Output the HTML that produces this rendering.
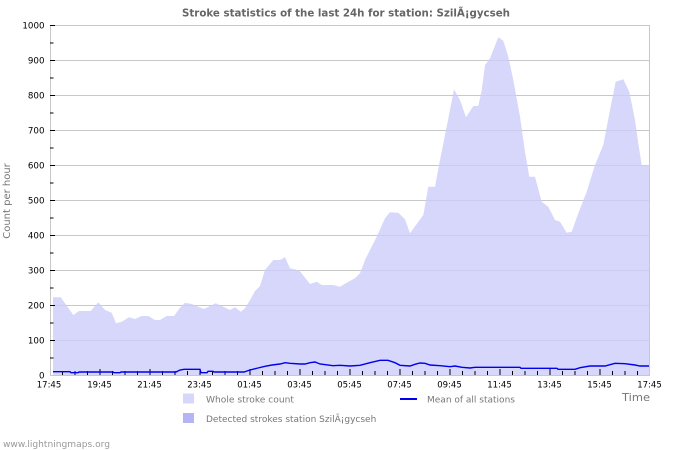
<!DOCTYPE html>
<html><head><meta charset="utf-8"><style>
html,body{margin:0;padding:0;background:#fff;}
svg{display:block;}
text{font-family:"DejaVu Sans","Liberation Sans",sans-serif;}
</style></head><body>
<svg width="700" height="450" viewBox="0 0 700 450" xmlns="http://www.w3.org/2000/svg">
<rect width="700" height="450" fill="#fff"/>
<text x="182" y="16.5" font-size="10.5" font-weight="bold" fill="#666" textLength="328" lengthAdjust="spacingAndGlyphs">Stroke statistics of the last 24h for station: SzilÃ¡gycseh</text>
<!-- grid -->
<g stroke="#c8c8c8" stroke-width="1">
<line x1="50" y1="25.5" x2="650" y2="25.5"/>
<line x1="50" y1="60.5" x2="650" y2="60.5"/>
<line x1="50" y1="95.5" x2="650" y2="95.5"/>
<line x1="50" y1="130.5" x2="650" y2="130.5"/>
<line x1="50" y1="165.5" x2="650" y2="165.5"/>
<line x1="50" y1="200.5" x2="650" y2="200.5"/>
<line x1="50" y1="235.5" x2="650" y2="235.5"/>
<line x1="50" y1="270.5" x2="650" y2="270.5"/>
<line x1="50" y1="305.5" x2="650" y2="305.5"/>
<line x1="50" y1="340.5" x2="650" y2="340.5"/>
</g>
<!-- fill -->
<polygon fill="#cdcdfa" fill-opacity="0.8" points="53,375 53,297.3 60.7,297.3 73.3,315 79,311 90.7,311 98.3,302.3 105,310 111.7,312.7 116,323.3 121.7,321.7 129,317.3 135,319 141.7,316 148.3,316 155,320 160,320 166.7,316 174,316 180,307.7 185,302.7 191.7,304 198.3,306.7 204,309 210,306 215.7,303.3 223.3,306.7 230,310 235,307.3 240.7,311.7 245,308.3 250,300 255,291 260,286 265,270 268.3,266 273.3,260 280,260 285,257.3 290,268.3 299.3,270.5 310,284 316.7,281.7 321.7,285 333.3,285 340,286.7 348.3,281.7 355,278.3 360,273.3 365,260 376.7,236.7 385,218.3 390,212.3 398.3,212.7 405,219.3 410,233.3 416.7,224 423.3,215 428.3,186.7 435,186.7 440,160 446.7,126.7 454,89.3 460,100 466,117.3 473.3,106 478.3,106 481.7,90 485,65 490,58.3 498.3,37.3 503.3,40.7 508.3,56.7 513.3,80 520,116.7 525,151.7 529.3,176.7 535,176.7 541.7,201.7 548.3,206.7 555,220 560,221.7 566.7,232.7 571.7,231.7 578.3,213.3 586.7,191.7 595,165 603.3,145 610,110 615.7,81.7 623.3,79.3 629.3,91.7 635,120 638.3,143.3 641.7,165 650,165 650,375"/>
<!-- frame -->
<g stroke="#c8c8c8" stroke-width="1" fill="none">
<line x1="50.5" y1="25" x2="50.5" y2="375"/>
<line x1="649.5" y1="25" x2="649.5" y2="375"/>
<line x1="50" y1="375.5" x2="650" y2="375.5"/>
</g>
<!-- y ticks -->
<g stroke="#000" stroke-width="1">
<line x1="50" y1="25.5" x2="55" y2="25.5"/><line x1="50" y1="43" x2="53.5" y2="43"/>
<line x1="50" y1="60.5" x2="55" y2="60.5"/><line x1="50" y1="78" x2="53.5" y2="78"/>
<line x1="50" y1="95.5" x2="55" y2="95.5"/><line x1="50" y1="113" x2="53.5" y2="113"/>
<line x1="50" y1="130.5" x2="55" y2="130.5"/><line x1="50" y1="148" x2="53.5" y2="148"/>
<line x1="50" y1="165.5" x2="55" y2="165.5"/><line x1="50" y1="183" x2="53.5" y2="183"/>
<line x1="50" y1="200.5" x2="55" y2="200.5"/><line x1="50" y1="218" x2="53.5" y2="218"/>
<line x1="50" y1="235.5" x2="55" y2="235.5"/><line x1="50" y1="253" x2="53.5" y2="253"/>
<line x1="50" y1="270.5" x2="55" y2="270.5"/><line x1="50" y1="288" x2="53.5" y2="288"/>
<line x1="50" y1="305.5" x2="55" y2="305.5"/><line x1="50" y1="323" x2="53.5" y2="323"/>
<line x1="50" y1="340.5" x2="55" y2="340.5"/><line x1="50" y1="358" x2="53.5" y2="358"/>
</g>
<!-- x ticks -->
<g stroke="#000" stroke-width="1">
<line x1="62.5" y1="375" x2="62.5" y2="371"/><line x1="75" y1="375" x2="75" y2="371"/><line x1="87.5" y1="375" x2="87.5" y2="371"/><line x1="100" y1="375" x2="100" y2="369"/>
<line x1="112.5" y1="375" x2="112.5" y2="371"/><line x1="125" y1="375" x2="125" y2="371"/><line x1="137.5" y1="375" x2="137.5" y2="371"/><line x1="150" y1="375" x2="150" y2="369"/>
<line x1="162.5" y1="375" x2="162.5" y2="371"/><line x1="175" y1="375" x2="175" y2="371"/><line x1="187.5" y1="375" x2="187.5" y2="371"/><line x1="200" y1="375" x2="200" y2="369"/>
<line x1="212.5" y1="375" x2="212.5" y2="371"/><line x1="225" y1="375" x2="225" y2="371"/><line x1="237.5" y1="375" x2="237.5" y2="371"/><line x1="250" y1="375" x2="250" y2="369"/>
<line x1="262.5" y1="375" x2="262.5" y2="371"/><line x1="275" y1="375" x2="275" y2="371"/><line x1="287.5" y1="375" x2="287.5" y2="371"/><line x1="300" y1="375" x2="300" y2="369"/>
<line x1="312.5" y1="375" x2="312.5" y2="371"/><line x1="325" y1="375" x2="325" y2="371"/><line x1="337.5" y1="375" x2="337.5" y2="371"/><line x1="350" y1="375" x2="350" y2="369"/>
<line x1="362.5" y1="375" x2="362.5" y2="371"/><line x1="375" y1="375" x2="375" y2="371"/><line x1="387.5" y1="375" x2="387.5" y2="371"/><line x1="400" y1="375" x2="400" y2="369"/>
<line x1="412.5" y1="375" x2="412.5" y2="371"/><line x1="425" y1="375" x2="425" y2="371"/><line x1="437.5" y1="375" x2="437.5" y2="371"/><line x1="450" y1="375" x2="450" y2="369"/>
<line x1="462.5" y1="375" x2="462.5" y2="371"/><line x1="475" y1="375" x2="475" y2="371"/><line x1="487.5" y1="375" x2="487.5" y2="371"/><line x1="500" y1="375" x2="500" y2="369"/>
<line x1="512.5" y1="375" x2="512.5" y2="371"/><line x1="525" y1="375" x2="525" y2="371"/><line x1="537.5" y1="375" x2="537.5" y2="371"/><line x1="550" y1="375" x2="550" y2="369"/>
<line x1="562.5" y1="375" x2="562.5" y2="371"/><line x1="575" y1="375" x2="575" y2="371"/><line x1="587.5" y1="375" x2="587.5" y2="371"/><line x1="600" y1="375" x2="600" y2="369"/>
<line x1="612.5" y1="375" x2="612.5" y2="371"/><line x1="625" y1="375" x2="625" y2="371"/><line x1="637.5" y1="375" x2="637.5" y2="371"/>
</g>
<!-- mean line -->
<polyline fill="none" stroke="#0000ee" stroke-width="1.4" points="53,371.7 70,371.7 71,372.7 78,372.7 79,372 113,372 114,372.7 120,372.7 121,372 176,372 180,370 184,369.3 200,369.3 201,372.7 207,372.7 208,371.3 213,371.3 214,372 244,372 250,370 258,368 265,366.3 272,365 280,364 285,362.7 290,363.3 300,364 305,364 310,362.7 315,362 320,364 333,365.7 340,365.3 350,366 360,365.3 370,362.7 380,360.3 388,360.3 395,362.7 400,365.3 410,366 415,364.3 420,363 425,363.3 430,365 440,365.7 450,366.7 455,366 462,367.3 470,368 475,367.3 520,367.3 521,368.3 557,368.3 558,369.3 575,369.3 580,367.7 590,366 605,366 610,364.7 615,363.3 625,363.7 635,365 640,366 649,366"/>
<!-- y labels -->
<g font-size="8.7" fill="#000" text-anchor="end">
<text x="44.5" y="28.3">1000</text>
<text x="44.5" y="63.3">900</text>
<text x="44.5" y="98.3">800</text>
<text x="44.5" y="133.3">700</text>
<text x="44.5" y="168.3">600</text>
<text x="44.5" y="203.3">500</text>
<text x="44.5" y="238.3">400</text>
<text x="44.5" y="273.3">300</text>
<text x="44.5" y="308.3">200</text>
<text x="44.5" y="343.3">100</text>
<text x="44.5" y="378.3">0</text>
</g>
<!-- x labels -->
<g font-size="8.5" fill="#000" text-anchor="middle">
<text x="49" y="387.5">17:45</text>
<text x="99.5" y="387.5">19:45</text>
<text x="149.5" y="387.5">21:45</text>
<text x="199.5" y="387.5">23:45</text>
<text x="249.5" y="387.5">01:45</text>
<text x="299.5" y="387.5">03:45</text>
<text x="349.5" y="387.5">05:45</text>
<text x="399.5" y="387.5">07:45</text>
<text x="449.5" y="387.5">09:45</text>
<text x="499.5" y="387.5">11:45</text>
<text x="549.5" y="387.5">13:45</text>
<text x="599.5" y="387.5">15:45</text>
<text x="649.5" y="387.5">17:45</text>
</g>
<text transform="translate(10,201) rotate(-90)" font-size="10" fill="#777" text-anchor="middle">Count per hour</text>
<text x="622" y="401" font-size="11" fill="#777" textLength="28" lengthAdjust="spacingAndGlyphs">Time</text>
<!-- legend -->
<rect x="183" y="393.5" width="11" height="10" fill="#d7d7fb"/>
<text x="206" y="402.5" font-size="9" fill="#777" textLength="88" lengthAdjust="spacingAndGlyphs">Whole stroke count</text>
<rect x="183" y="413" width="11" height="10" fill="#b5b5f6"/>
<text x="206" y="422" font-size="9" fill="#777">Detected strokes station SzilÃ¡gycseh</text>
<line x1="400" y1="399" x2="417" y2="399" stroke="#0000ee" stroke-width="2"/>
<text x="427" y="402.5" font-size="9" fill="#777">Mean of all stations</text>
<text x="3" y="447" font-size="9" fill="#999" textLength="107" lengthAdjust="spacingAndGlyphs">www.lightningmaps.org</text>
</svg>
</body></html>
